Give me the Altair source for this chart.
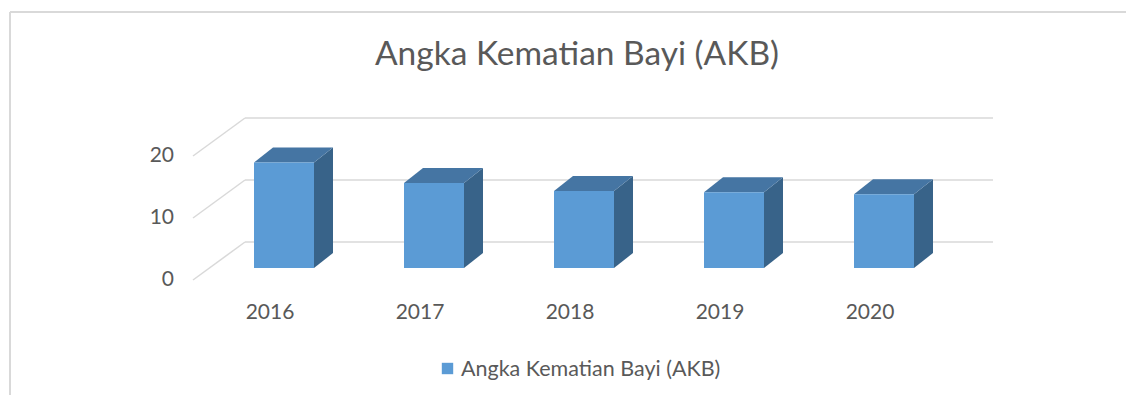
import altair as alt
import pandas as pd

# ---------------- data ----------------
years = ["2016", "2017", "2018", "2019", "2020"]
values = [17.0, 13.7, 12.4, 12.2, 11.9]
ticks = [0, 10, 20]
chart_title = "Angka Kematian Bayi (AKB)"
series_name = "Angka Kematian Bayi (AKB)"

# ---------------- layout constants ----------------
W, H = 1118, 387
PX_X = 150.0          # pixels per category step
PX_Y = 6.2            # pixels per value unit
X0_PX = 276.0         # local x of first category centre
Y0_PX = 272.0         # local y of front-plane zero
X_DOM = [-X0_PX / PX_X, (W - X0_PX) / PX_X]
Y_DOM = [(Y0_PX - H) / PX_Y, Y0_PX / PX_Y]

HALF = 30 / PX_X      # half bar width
DX = 19 / PX_X        # bar depth (x)
DY = 15 / PX_Y        # bar depth (y)
BASE = 12 / PX_Y      # bar front face floor level
WALL_DX = 52 / PX_X
WALL_DY = 38 / PX_Y
FRONT_X = (193 - 284) / PX_X
WALL_X1 = (993 - 284) / PX_X

def px_x(page_x):
    return (page_x - 8 - X0_PX) / PX_X

def px_y(page_y):
    return (Y0_PX - (page_y - 8)) / PX_Y

xs = alt.Scale(domain=X_DOM, nice=False, zero=False)
ys = alt.Scale(domain=Y_DOM, nice=False, zero=False)

FRONT = "#5B9BD5"
TOP = "#4575A3"
SIDE = "#386389"
GRID = "#D9D9D9"
TXT = "#595959"
FONT = "Lato"

# ---------------- tables ----------------
idx = list(range(len(years)))
front_df = pd.DataFrame({
    "year": years,
    "x": [i - HALF for i in idx],
    "x2": [i + HALF for i in idx],
    "y": [BASE] * len(years),
    "y2": [BASE + v for v in values],
})

top_rows, side_rows = [], []
for i, (yr, v) in enumerate(zip(years, values)):
    top_rows.append({"year": yr, "y": BASE + v, "x": i - HALF, "x2": i + HALF})
    top_rows.append({"year": yr, "y": BASE + v + DY, "x": i - HALF + DX, "x2": i + HALF + DX})
    side_rows.append({"year": yr, "x": i + HALF, "y": BASE, "y2": BASE + v})
    side_rows.append({"year": yr, "x": i + HALF + DX, "y": BASE + DY, "y2": BASE + v + DY})
top_df = pd.DataFrame(top_rows)
side_df = pd.DataFrame(side_rows)

grid_back = pd.DataFrame({"x": [FRONT_X + WALL_DX] * 3, "x2": [WALL_X1] * 3,
                          "y": [t + WALL_DY for t in ticks]})
grid_side = pd.DataFrame({"x": [FRONT_X] * 3, "x2": [FRONT_X + WALL_DX] * 3,
                          "y": ticks, "y2": [t + WALL_DY for t in ticks]})

ylab_df = pd.DataFrame({"label": [str(t) for t in ticks], "x": [px_x(174)] * 3,
                        "y": [t + 0.0 for t in ticks]})
xlab_df = pd.DataFrame({"label": years, "x": [i - 14 / PX_X for i in idx],
                        "y": [px_y(319)] * len(years)})

border_top = pd.DataFrame({"x": [px_x(10)], "x2": [X_DOM[1]], "y": [px_y(12)]})
border_left = pd.DataFrame({"x": [px_x(10)], "y": [px_y(12)], "y2": [Y_DOM[0]]})

title_df = pd.DataFrame({"label": [chart_title], "x": [px_x(577)], "y": [px_y(65)]})
leg_sq = pd.DataFrame({"x": [px_x(447.5)], "y": [px_y(368.5)]})
leg_txt = pd.DataFrame({"label": [series_name], "x": [px_x(461)], "y": [px_y(376)]})

X = lambda f="x": alt.X(f"{f}:Q", scale=xs, axis=None)
Y = lambda f="y": alt.Y(f"{f}:Q", scale=ys, axis=None)

layers = [
    alt.Chart(border_top).mark_rule(color=GRID, strokeWidth=2).encode(x=X(), x2="x2:Q", y=Y()),
    alt.Chart(border_left).mark_rule(color=GRID, strokeWidth=2).encode(x=X(), y=Y(), y2="y2:Q"),
    alt.Chart(grid_back).mark_rule(color=GRID, strokeWidth=1.5).encode(x=X(), x2="x2:Q", y=Y()),
    alt.Chart(grid_side).mark_rule(color=GRID, strokeWidth=1.5).encode(x=X(), x2="x2:Q", y=Y(), y2="y2:Q"),
    alt.Chart(side_df).mark_area(color=SIDE, orient="vertical").encode(
        x=X(), y=Y(), y2="y2:Q", detail="year:N"),
    alt.Chart(top_df).mark_area(color=TOP, orient="horizontal").encode(
        y=Y(), x=X(), x2="x2:Q", detail="year:N"),
    alt.Chart(front_df).mark_rect(color=FRONT).encode(x=X(), x2="x2:Q", y=Y(), y2="y2:Q"),
    alt.Chart(ylab_df).mark_text(align="right", baseline="middle", font=FONT, fontSize=21,
                                 color=TXT).encode(x=X(), y=Y(), text="label:N"),
    alt.Chart(xlab_df).mark_text(align="center", baseline="alphabetic", font=FONT, fontSize=21,
                                 color=TXT).encode(x=X(), y=Y(), text="label:N"),
    alt.Chart(title_df).mark_text(align="center", baseline="alphabetic", font=FONT, fontSize=33.5,
                                  color=TXT).encode(x=X(), y=Y(), text="label:N"),
    alt.Chart(leg_sq).mark_square(color=FRONT, size=130, opacity=1).encode(x=X(), y=Y()),
    alt.Chart(leg_txt).mark_text(align="left", baseline="alphabetic", font=FONT, fontSize=21.5,
                                 color=TXT).encode(x=X(), y=Y(), text="label:N"),
]

chart = alt.layer(*layers).properties(
    width=W, height=H, padding=0, autosize=alt.AutoSizeParams(type="none")
).configure_view(stroke=None)

chart.save("out.html", embed_options={"renderer": "svg", "actions": False})
